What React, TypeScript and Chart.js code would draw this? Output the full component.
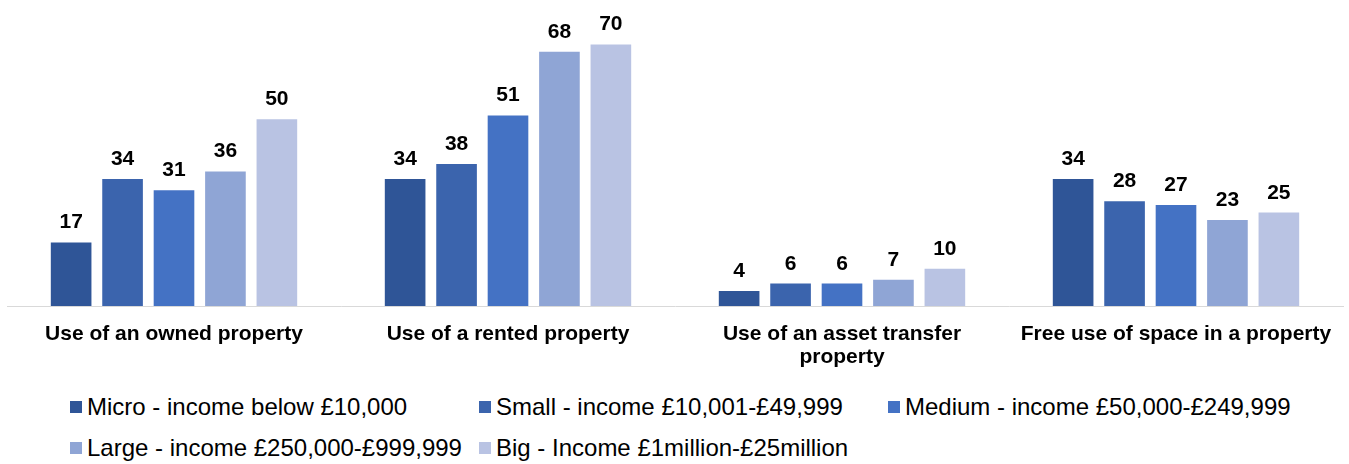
import React, { useEffect, useRef } from "react";
import { Chart, registerables } from "chart.js";

Chart.register(...registerables);

const categories: (string | string[])[] = [
  "Use of an owned property",
  "Use of a rented property",
  ["Use of an asset transfer", "property"],
  "Free use of space in a property",
];

const seriesNames = [
  "Micro - income below £10,000",
  "Small - income £10,001-£49,999",
  "Medium - income £50,000-£249,999",
  "Large - income £250,000-£999,999",
  "Big - Income £1million-£25million",
];

const micro = [17, 34, 4, 34];
const small = [34, 38, 6, 28];
const medium = [31, 51, 6, 27];
const large = [36, 68, 7, 23];
const big = [50, 70, 10, 25];

const seriesValues = [micro, small, medium, large, big];
const seriesColors = ["#2F5597", "#3B64AD", "#4472C4", "#8FA5D5", "#B9C3E3"];

const FONT = "'Liberation Sans', Arial, sans-serif";

const legendLayout = [
  { left: 70, top: 407 },
  { left: 479, top: 407 },
  { left: 888, top: 407 },
  { left: 70, top: 448 },
  { left: 479, top: 448 },
];

const valueLabels = {
  id: "valueLabels",
  afterDatasetsDraw(chart: any) {
    const ctx = chart.ctx;
    ctx.save();
    ctx.font = `bold 21px ${FONT}`;
    ctx.fillStyle = "#000";
    ctx.textAlign = "center";
    ctx.textBaseline = "alphabetic";
    chart.data.datasets.forEach((ds: any, i: number) => {
      const meta = chart.getDatasetMeta(i);
      meta.data.forEach((bar: any, j: number) => {
        ctx.fillText(String(ds.data[j]), bar.x, bar.y - 14);
      });
    });
    ctx.restore();
  },
};

export default function App() {
  const ref = useRef<HTMLCanvasElement>(null);

  useEffect(() => {
    if (!ref.current) return;
    const chart = new Chart(ref.current, {
      type: "bar",
      data: {
        labels: categories,
        datasets: seriesNames.map((name, i) => ({
          label: name,
          data: seriesValues[i],
          backgroundColor: seriesColors[i],
          borderWidth: 0,
          categoryPercentage: 0.77,
          barPercentage: 0.79,
        })),
      },
      options: {
        animation: false,
        responsive: false,
        devicePixelRatio: 1,
        layout: { padding: { left: 7, right: 6, top: 7, bottom: 0 } },
        plugins: {
          legend: { display: false },
          tooltip: { enabled: false },
        },
        scales: {
          x: {
            grid: { display: false, drawTicks: false },
            border: { display: true, color: "#D9D9D9", width: 1 },
            ticks: {
              color: "#000",
              font: { family: FONT, size: 21, weight: "bold", lineHeight: 1.12 },
              padding: 16,
              maxRotation: 0,
              autoSkip: false,
            },
            afterFit: (scale: any) => {
              scale.height = 70;
            },
          },
          y: {
            display: false,
            min: 0,
            max: 80,
          },
        },
      },
      plugins: [valueLabels],
    });
    return () => chart.destroy();
  }, []);

  return (
    <div
      style={{
        position: "absolute",
        left: 0,
        top: 0,
        width: 1349,
        height: 464,
        background: "#fff",
        fontFamily: FONT,
      }}
    >
      <canvas ref={ref} width={1349} height={376} style={{ display: "block", width: 1349, height: 376 }} />
      {seriesNames.map((name, i) => (
        <div
          key={name}
          style={{
            position: "absolute",
            left: legendLayout[i].left,
            top: legendLayout[i].top - 12,
            height: 24,
            display: "flex",
            alignItems: "center",
            whiteSpace: "nowrap",
          }}
        >
          <span
            style={{
              display: "inline-block",
              width: 12,
              height: 12,
              background: seriesColors[i],
              marginRight: 5,
            }}
          />
          <span style={{ fontSize: 24, lineHeight: "24px", color: "#000" }}>{name}</span>
        </div>
      ))}
    </div>
  );
}
